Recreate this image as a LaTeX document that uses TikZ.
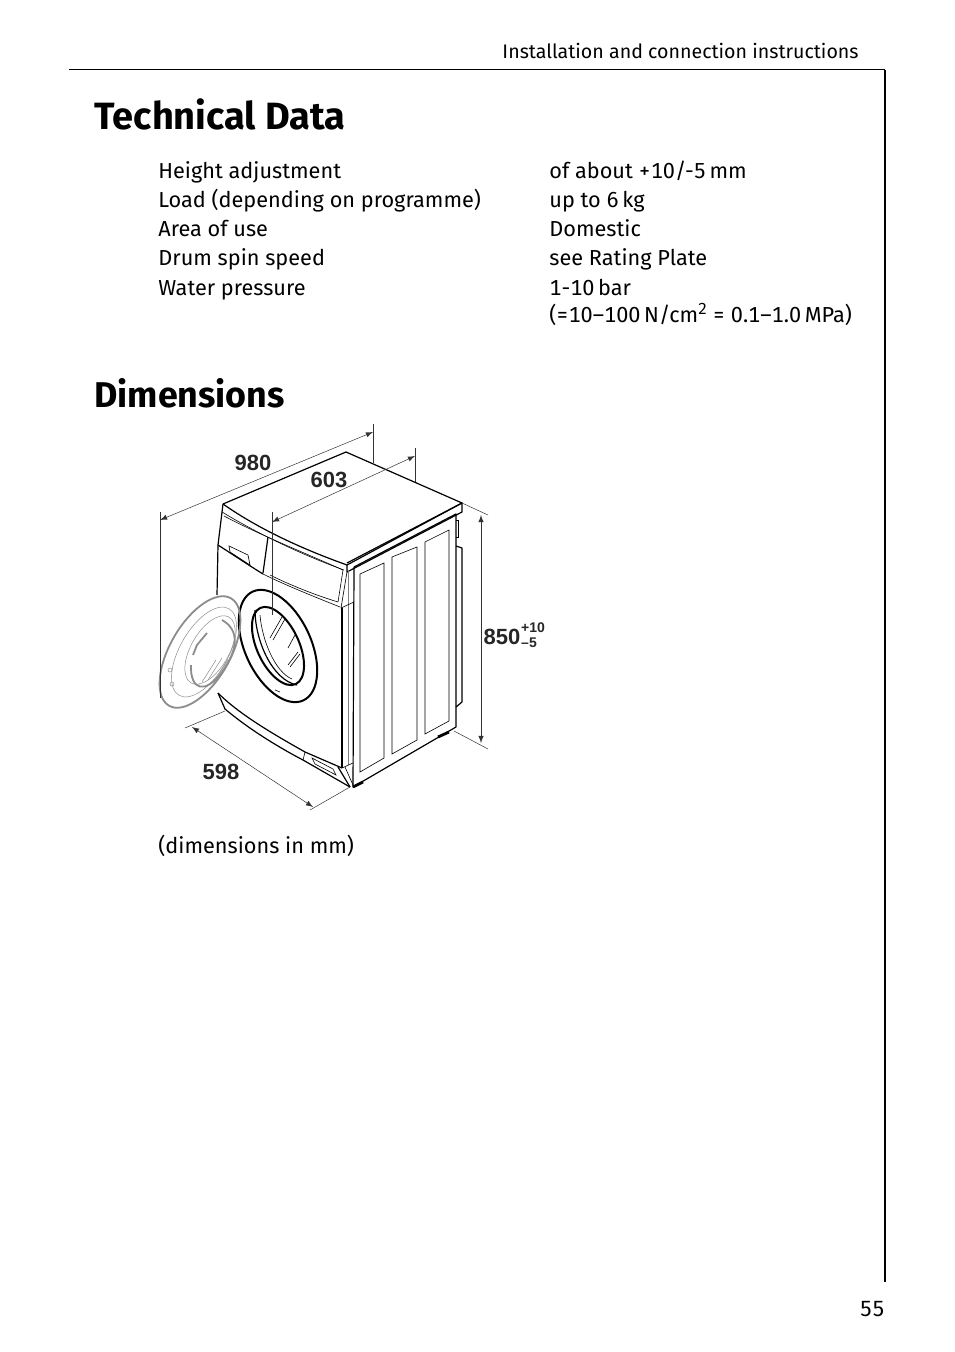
\documentclass[tikz,border=0pt]{standalone}
\usepackage{fontspec}
\setmainfont[Numbers={Monospaced,Lining}]{Fira Sans}
\newfontfamily\dimfont{Liberation Sans}
\usetikzlibrary{arrows}
\tikzset{
  body/.style={text=black,anchor=base west,inner sep=0pt,font=\fontsize{10.85}{14}\selectfont},
  heading/.style={anchor=base west,inner sep=0pt,font=\fontsize{18.6}{22}\selectfont\bfseries},
  extline/.style={line width=0.25pt,black!80},
  dimline/.style={line width=0.25pt,black!80,latex-latex},
  dimlabel/.style={inner sep=0pt,font=\fontsize{11}{12}\selectfont\dimfont\bfseries,black!85},
  smalllabel/.style={inner sep=0pt,font=\fontsize{7}{8}\selectfont\dimfont\bfseries,black!85},
  outline/.style={line width=0.6pt,line join=round},
  fineline/.style={line width=0.3pt},
  doorline/.style={line width=0.9pt,black!45},
  doorfine/.style={line width=0.25pt,black!45},
  foot/.style={line width=1.4pt}
}
\begin{document}
\begin{tikzpicture}[x=0.5pt,y=-0.5pt]
\useasboundingbox (0,0) rectangle (954,1352);
% page frame
\draw[line width=0.5pt] (69,70) -- (885,70);
\draw[line width=1.1pt] (885,70) -- (885,1282);
\node[anchor=base east,inner sep=0pt,font=\fontsize{9.8}{12}\selectfont] (headtext) at (859,59) {Installation and connection instructions};
\node[anchor=base east,inner sep=0pt,font=\fontsize{11}{12}\selectfont] (pagenum) at (885,1316) {55};
% technical data
\node[heading,font=\fontsize{19}{22}\selectfont\bfseries] (techhead) at (94,130) {Technical Data};
\node[body] (lheight) at (158,179) {Height adjustment};
\node[body] (lload) at (158,208) {Load (depending on programme)};
\node[body] (larea) at (158,237) {Area of use};
\node[body] (lspin) at (158,266) {Drum spin speed};
\node[body] (lwater) at (158,296) {Water pressure};
\node[body] (vheight) at (549,179) {of about +10/-5\,mm};
\node[body] (vload) at (549,208) {up to 6\,kg};
\node[body] (varea) at (549,237) {Domestic};
\node[body] (vspin) at (549,266) {see Rating Plate};
\node[body] (vwater) at (549,296) {1-10\,bar};
\node[body] (vwatertwo) at (549,323) {(=10–100\,N/cm\raisebox{4pt}{\fontsize{8}{9}\selectfont 2} = 0.1–1.0\,MPa)};
% dimensions
\node[heading,font=\fontsize{17.9}{22}\selectfont\bfseries] (dimhead) at (94,408) {Dimensions};
\node[body] (dimnote) at (158,853) {(dimensions in mm)};
% machine top
\draw[outline] (223,504) -- (346,452) -- (462,503) -- (347,563);
\draw[outline] (223,504) .. controls (260,530) and (305,550) .. (347,565) -- (462,503) -- (462,512) -- (347,572) -- (347,565);
\draw[fineline] (222,512) .. controls (260,535) and (305,556) .. (344,570);
% machine side
\draw[outline] (354,567) -- (456,514) -- (456,727) -- (353,787) -- (354,567);
\draw[outline] (342,608) -- (342,768);
\draw[fineline,black!50] (348,570) -- (348,765);
\draw[fineline] (347,572) -- (341,608) -- (354,602);
\draw[fineline] (342,768) -- (353,763);
\draw[fineline] (360,574) -- (384,563) -- (384,758) -- (360,772) -- cycle;
\draw[fineline] (392,557) -- (417,547) -- (417,740) -- (392,754) -- cycle;
\draw[fineline] (425,542) -- (449,530) -- (449,721) -- (425,734) -- cycle;
\draw[fineline] (456,520) -- (458,520) -- (458,537) -- (456,537);
\draw[outline] (456,546) -- (462,548) -- (462,702) -- (456,707);
\draw[foot] (438,737) -- (449,732);
\draw[foot] (353,787) -- (363,782);
% machine front
\draw[outline] (223,504) -- (218,545) -- (217,595);
\draw[outline] (218,545) .. controls (235,556) and (250,566) .. (263,574);
\draw[fineline] (263,574) .. controls (285,585) and (315,597) .. (340,607);
\draw[fineline] (270,575) .. controls (290,585) and (315,595) .. (338,602);
\draw[fineline] (343,570) -- (338,602);
\draw[fineline] (224,516) .. controls (260,535) and (305,553) .. (343,570);
\draw[outline] (268,537) -- (263,573);
\draw[fineline] (229,546) -- (248,555) -- (250,565) -- (230,552) -- cycle;
% door opening on the front
\draw[line width=1pt] (278,646) circle[x radius=16.5pt,y radius=30pt,rotate=25];
\draw[line width=1pt] (278,646) circle[x radius=10.5pt,y radius=21pt,rotate=25];
\draw[outline] (255,610) .. controls (255,640) and (272,680) .. (297,685);
\draw[fineline] (260,615) .. controls (262,640) and (275,672) .. (292,679);
\draw[fineline] (270,638) -- (282,617) (273,640) -- (285,619);
\draw[fineline] (288,648) -- (295,635);
\draw[fineline] (288,665) -- (298,652) (290,667) -- (300,654);
\draw[fineline] (275,690) -- (280,692);
% open door
\draw[doorline] (200,652) circle[x radius=15pt,y radius=31pt,rotate=-30];
\draw[doorfine] (204,652) circle[x radius=12pt,y radius=25pt,rotate=-30];
\draw[doorfine] (210,650) circle[x radius=9.5pt,y radius=19pt,rotate=-30];
\draw[doorline] (193,655) -- (197,645) -- (207,633);
\draw[doorline] (191,665) .. controls (190,690) and (205,695) .. (222,672) .. controls (238,650) and (240,630) .. (222,620);
\draw[doorfine] (208,680) -- (222,658) (214,682) -- (228,660) (202,682) -- (216,660);
\draw[doorfine] (170,670) circle[radius=1pt];
\draw[doorfine] (172,684) circle[radius=1pt];
% plinth
\draw[outline] (218,693) .. controls (240,715) and (275,735) .. (305,752) -- (342,768);
\draw[outline] (218,693) -- (225,709) .. controls (250,730) and (280,748) .. (303,760) -- (350,787);
\draw[fineline] (305,752) -- (303,760);
\draw[fineline] (312,758) -- (333,769) -- (336,775) -- (315,764) -- cycle;
\draw[outline] (338,767) -- (350,787);
\draw[fineline] (345,767) -- (353,785);
% dimension lines
\coordinate (wideleft) at (160,520);
\coordinate (wideright) at (373,432);
\coordinate (deepleft) at (272,522);
\coordinate (deepright) at (415,456);
\coordinate (hightop) at (481,515);
\coordinate (highbottom) at (481,743);
\coordinate (frontleft) at (192,727);
\coordinate (frontright) at (313,807);
\draw[extline] (160,512) -- (160,698);
\draw[extline] (373,424) -- (373,463);
\draw[extline] (272,512) -- (272,615);
\draw[extline] (415,448) -- (415,482);
\draw[extline] (462,503) -- (488,515);
\draw[extline] (454,731) -- (488,749);
\draw[extline] (185,728) -- (225,711);
\draw[extline] (310,810) -- (350,787);
\draw[dimline] (wideleft) -- (wideright);
\draw[dimline] (deepleft) -- (deepright);
\draw[dimline] (hightop) -- (highbottom);
\draw[dimline] (frontleft) -- (frontright);
\node[dimlabel] (lblwide) at (253,463) {980};
\node[dimlabel] (lbldeep) at (329,480) {603};
\node[dimlabel] (lblfront) at (221,772) {598};
\node[dimlabel] (lblhigh) at (502,637) {850};
\node[smalllabel] (lblplus) at (533,628) {+10};
\node[smalllabel] (lblminus) at (529,643) {–5};
\end{tikzpicture}
\end{document}
